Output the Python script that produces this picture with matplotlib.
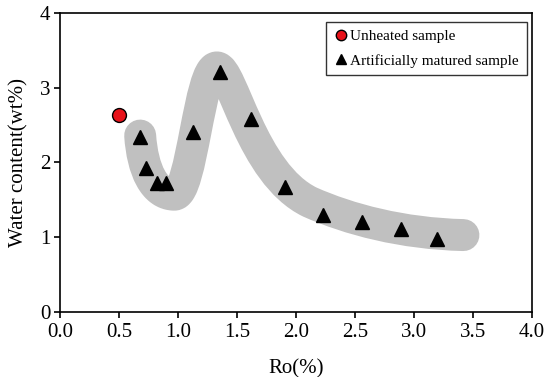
import numpy as np
import matplotlib.pyplot as plt
from matplotlib.path import Path
from matplotlib.patches import PathPatch

plt.rcParams['font.family'] = ['Liberation Serif', 'DejaVu Serif']

# unheated sample
ro_unheated = [0.50]
water_unheated = [2.64]

# artificially matured samples
ro_matured = [0.68, 0.73, 0.82, 0.90, 1.13, 1.36, 1.62, 1.91, 2.23, 2.56, 2.89, 3.20]
water_matured = [2.34, 1.93, 1.73, 1.73, 2.41, 3.21, 2.58, 1.67, 1.30, 1.20, 1.11, 0.98]

# trend band (bezier control points)
band_verts = [(0.68, 2.36),
              (0.70, 1.90), (0.80, 1.57), (0.97, 1.57),
              (1.12, 1.57), (1.18, 3.27), (1.33, 3.27),
              (1.46, 3.27), (1.62, 1.85), (2.12, 1.47),
              (2.45, 1.24), (2.90, 1.05), (3.42, 1.03)]
band_codes = [Path.MOVETO] + [Path.CURVE4] * 12

fig = plt.figure(figsize=(5.5, 3.77), dpi=100)
ax = fig.add_axes([0.109, 0.172, 0.858, 0.794])

band = PathPatch(Path(band_verts, band_codes), facecolor='none', edgecolor='#c0c0c0',
                 linewidth=23, capstyle='round', joinstyle='round', zorder=1)
ax.add_patch(band)

ax.plot(ro_unheated, water_unheated, 'o', color='#e8121a', markeredgecolor='black',
        markersize=10, markeredgewidth=1, label='Unheated sample', zorder=3)
ax.plot(ro_matured, water_matured, '^', color='black', markersize=9.5,
        label='Artificially matured sample', zorder=3)

ax.set_xlim(0, 4)
ax.set_ylim(0, 4)
ax.set_xticks(np.arange(0, 4.01, 0.5))
ax.set_xticklabels(['%.1f' % v for v in np.arange(0, 4.01, 0.5)])
ax.set_yticks([0, 1, 2, 3, 4])
ax.tick_params(labelsize=15, direction='out', length=4, width=1.2, top=False, right=False)
ax.tick_params(axis='x', pad=4)
ax.tick_params(axis='y', pad=3)
for s in ax.spines.values():
    s.set_linewidth(1.2)
ax.set_xlabel('Ro(%)', fontsize=15, labelpad=12)
ax.set_ylabel('Water content(wt%)', fontsize=15, labelpad=8)

leg = ax.legend(loc='upper right', fontsize=11, frameon=True, fancybox=False,
                edgecolor='black', handletextpad=0.1, handlelength=1.0,
                borderpad=0.5, labelspacing=0.7, markerscale=0.75,
                borderaxespad=0, bbox_to_anchor=(0.989, 0.970))
leg.get_frame().set_linewidth(1.0)

fig.savefig('out.png', dpi=100)
